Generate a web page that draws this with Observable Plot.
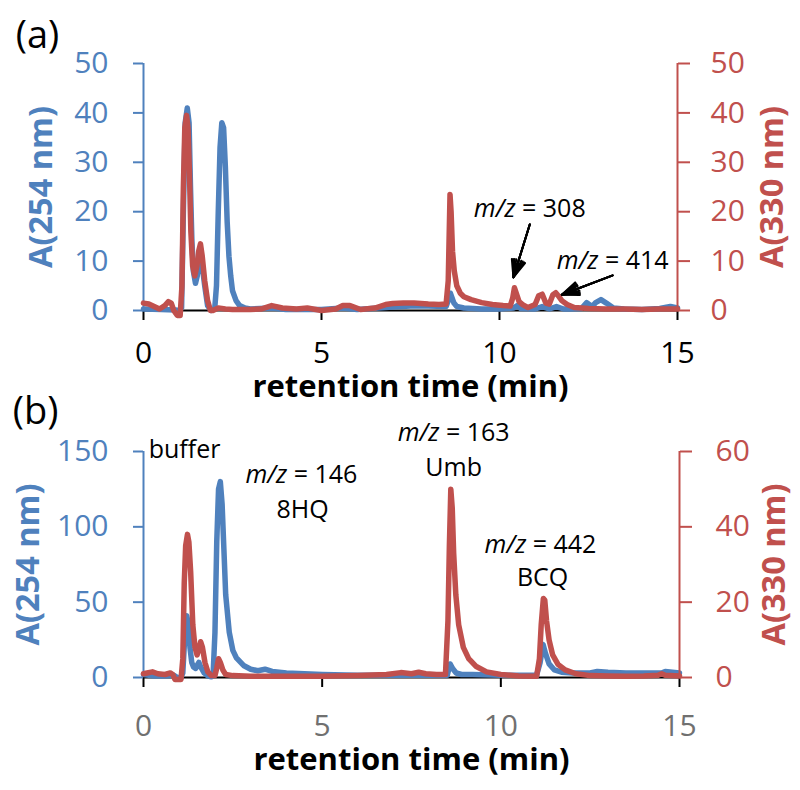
<!DOCTYPE html>
<html><head><meta charset="utf-8">
<script src="https://cdn.jsdelivr.net/npm/d3@7"></script>
<script src="https://cdn.jsdelivr.net/npm/@observablehq/plot@0.6"></script>
<style>
body{margin:0;background:#fff;}
#wrap{position:relative;width:800px;height:790px;overflow:hidden;}
.panel{position:absolute;left:0;width:800px;}
.panel svg{position:absolute;left:0;top:0;overflow:visible;}
</style></head><body>
<div id="wrap">
 <div class="panel" id="pa" style="top:0;height:390px"></div>
 <div class="panel" id="pb" style="top:390px;height:400px"></div>
</div>
<script>
// ---------- Panel (a) ----------
const aT254 = [0,0.5,0.9,1.0,1.07,1.12,1.17,1.23,1.28,1.32,1.36,1.4,1.46,1.51,1.56,1.6,1.65,1.72,1.8,1.9,2.0,2.05,2.1,2.15,2.2,2.25,2.3,2.35,2.4,2.45,2.5,2.6,2.7,2.85,3.0,3.6,4,5,5.6,6,7,7.5,8,8.5,8.56,8.62,8.67,8.72,8.8,9.0,9.5,10,10.4,10.5,10.6,11,11.2,11.4,11.6,11.8,12,12.3,12.45,12.6,12.7,12.85,13.0,13.2,13.5,14,14.5,14.8,15];
const aA254 = [0.3,0.2,0.1,0,0.5,20,38,41,38,25,14,8,5.5,7,10,12,9,5,1,0,0.3,5,20,33,38,37,29,18,11,7,4,2,1,0.5,0.3,0.5,0.2,0.2,0.5,0.2,0.7,0.9,0.9,0.8,2,3.5,2.5,1.5,0.8,0.5,0.3,0.3,0.5,1,0.4,0.3,0.8,0.3,0.8,0.3,0.3,0.4,1.6,0.8,1.6,2.2,1.5,0.5,0.3,0.2,0.4,0.8,0.5];
const aT330 = [0,0.15,0.3,0.45,0.6,0.7,0.78,0.85,0.95,1.03,1.08,1.12,1.16,1.21,1.25,1.29,1.33,1.38,1.44,1.5,1.55,1.6,1.65,1.72,1.8,1.88,1.95,2.1,2.3,2.5,3.0,3.3,3.6,3.9,4.3,4.6,5.0,5.4,5.6,5.8,6.1,6.5,6.8,7.0,7.3,7.6,8.0,8.3,8.5,8.56,8.61,8.64,8.68,8.73,8.8,8.9,9.0,9.2,9.5,9.8,10.1,10.3,10.37,10.42,10.47,10.55,10.65,10.8,11.0,11.1,11.2,11.3,11.4,11.5,11.58,11.65,11.75,11.9,12.1,12.5,13,13.5,14,14.5,15];
const aA330 = [1.5,1.3,0.8,0.3,1.0,1.8,1.5,0,-1,-1,5,25,37,39.5,37,28,16,9,7,9,12,13.5,11,6,2,0,0,0.5,0.3,0.2,0.2,0.3,1,0.5,0.3,0.5,0,0.3,1.0,1.0,0.2,0.5,1.2,1.4,1.5,1.5,1.3,1.2,1.3,6,23.5,20,12,8,5,3.5,2.8,2.2,1.6,1.2,1.0,0.9,2.5,4.6,3.5,1.8,1.2,0.6,1.2,3,3.3,1.5,1.3,3.2,3.6,3.0,2,1.2,0.6,0.4,0.3,0.3,0.2,0.3,0.3];
const aLeftTicks = [0,10,20,30,40,50];
const aRightTicks = [0,10,20,30,40,50];
const aNoteText = ["m/z = 308","m/z = 414"];
const aNoteX = [10.85,13.18];
const aNoteY = [20.5,10.1];
const aArrowX1 = [10.85,13.18], aArrowY1 = [17.4,7.1];
const aArrowX2 = [10.39,11.75], aArrowY2 = [6.7,3.2];

// ---------- Panel (b) ----------
const bT254 = [0,0.3,0.6,0.85,0.95,1.05,1.1,1.15,1.21,1.26,1.3,1.35,1.4,1.46,1.5,1.55,1.6,1.7,1.8,1.9,1.95,2.0,2.05,2.1,2.15,2.2,2.25,2.3,2.4,2.5,2.6,2.8,3.0,3.2,3.4,3.6,4.0,5.0,6.0,7.0,8.0,8.5,8.58,8.65,8.75,8.9,9.2,10,11,11.1,11.18,11.25,11.35,11.5,11.7,12,12.5,12.7,13,13.5,14,14.5,14.6,15];
const bA254 = [2,1,1,1.5,0,0,3,25,41,35,20,10,7,6,8,10,7,3,1,0.5,3,30,90,125,130,115,85,55,30,18,13,8,5.5,4.5,5.5,4,3,2,1.5,1.5,1.5,1.5,9,6,3,2,2,1.5,1.5,10,22,16,9,5,3.5,3,3,4,3.5,3,3,3,4,3];
const bT330 = [0,0.1,0.25,0.4,0.6,0.75,0.82,0.88,0.95,1.05,1.1,1.14,1.18,1.23,1.27,1.32,1.38,1.44,1.5,1.55,1.6,1.65,1.72,1.8,1.9,2.0,2.05,2.1,2.15,2.22,2.3,2.5,3,4,5,6,6.8,7.2,7.5,7.7,7.9,8.2,8.45,8.52,8.56,8.6,8.64,8.68,8.74,8.82,8.95,9.1,9.3,9.6,10,10.5,11.0,11.08,11.13,11.19,11.23,11.28,11.35,11.45,11.6,11.8,12.1,12.5,13,13.5,14,14.4,14.5,14.6,15];
const bA330 = [1,1.2,1.5,1,0.8,1.2,0.8,-0.5,-0.5,-0.5,5,25,35,38,36,28,14,8,6,7.5,9.5,8,4,1.5,0.5,0.5,2.5,5,4,2,0.8,0.5,0.3,0.3,0.3,0.5,0.8,1.3,1.0,1.4,1.0,0.8,0.8,15,35,50,45,33,22,14,8,5,3,1.5,0.8,0.4,0.3,5,14,21,20.5,15,10,6,3.5,2,1,0.5,0.4,0.3,0.4,0.6,1.0,0.6,0.4];
const bLeftTicks = [0,50,100,150];
const bRightTicks = [0,20,40,60];
const bNoteText = ["buffer","m/z = 146","8HQ","m/z = 163","Umb","m/z = 442","BCQ"];
const bNoteX = [1.15,4.42,4.45,8.68,8.68,11.11,11.17];
const bNoteY = [151,134.7,111,162,139,88,66];

const xTicks = [0,5,10,15];
const BLUE = "#4F81BD", RED = "#C0504D";
const FONT = "'Open Sans', Lato, sans-serif";

const series = (t, v) => t.map((d, i) => ({t: d, v: v[i]}));
const notes = (tx, x, y) => tx.map((d, i) => ({text: d, x: x[i], y: y[i]}));
const arrows = (x1, y1, x2, y2) => x1.map((d, i) => ({x1: d, y1: y1[i], x2: x2[i], y2: y2[i]}));

function italicize(svg) {
  svg.querySelectorAll("text").forEach(el => {
    const s = el.textContent;
    if (s.startsWith("m/z")) {
      el.textContent = "";
      const ns = "http://www.w3.org/2000/svg";
      const a = document.createElementNS(ns, "tspan");
      a.setAttribute("font-style", "italic");
      a.textContent = "m/z";
      el.appendChild(a);
      el.appendChild(document.createTextNode(s.slice(3)));
    }
  });
  return svg;
}

function arrowMarks(data) {
  return [16, 26, 36, 44].map(a => Plot.arrow(data, {x1: "x1", y1: "y1", x2: "x2", y2: "y2", stroke: "#000", strokeWidth: 2, headLength: 15, headAngle: a}));
}

const centered = {textAnchor: "middle", lineAnchor: "middle"};
const LW = 5.5, TICKFS = 30, TITLEFS = 31, YTITLEFS = 32.5, NOTEFS = 25;

function panel(el, cfg) {
  const common = {
    width: 800, height: cfg.height,
    marginLeft: 143, marginRight: cfg.mr, marginTop: cfg.mt, marginBottom: cfg.mb,
    style: {fontFamily: FONT, background: "transparent", overflow: "visible"}
  };
  const bottom = Plot.plot({
    ...common,
    x: {domain: [0, 15]},
    y: {domain: cfg.leftDomain},
    marks: [
      Plot.ruleY([0], {stroke: "#000", strokeWidth: 2}),
      Plot.axisX({ticks: xTicks, tickSize: 10, tickPadding: cfg.xPad, fontSize: TICKFS, stroke: "#000", fill: cfg.xColor, strokeWidth: 2, label: null}),
      Plot.ruleX([0], {stroke: BLUE, strokeWidth: 2}),
      Plot.axisY({ticks: cfg.leftTicks, tickSize: 10, tickPadding: 25, fontSize: TICKFS, color: BLUE, strokeWidth: 2, label: null}),
      Plot.text(["A(254 nm)"], {...centered, text: d => d, frameAnchor: "left", rotate: -90, dx: cfg.ltDx, fontSize: YTITLEFS, fontWeight: "bold", fill: BLUE}),
      Plot.text(["retention time (min)"], {...centered, text: d => d, frameAnchor: "bottom", dy: cfg.xtDy, fontSize: TITLEFS, fontWeight: "bold", fill: "#000"}),
      Plot.text([cfg.tag], {...centered, text: d => d, frameAnchor: "top-left", dx: cfg.tagDx, dy: cfg.tagDy, fontSize: 38, fill: "#000"}),
      Plot.line(cfg.blue, {x: "t", y: "v", stroke: BLUE, strokeWidth: LW, strokeLinejoin: "round", strokeLinecap: "round"}),
      ...(cfg.bNotes ? [Plot.text(cfg.bNotes, {x: "x", y: "y", text: "text", fontSize: NOTEFS, fill: "#000"})] : [])
    ]
  });
  const top = Plot.plot({
    ...common,
    x: {domain: [0, 15], axis: null},
    y: {domain: cfg.rightDomain},
    marks: [
      Plot.ruleX([15], {stroke: RED, strokeWidth: 2}),
      Plot.axisY({anchor: "right", ticks: cfg.rightTicks, tickSize: 12, tickPadding: cfg.rPad, fontSize: TICKFS, color: RED, strokeWidth: 2, label: null}),
      Plot.text(["A(330 nm)"], {...centered, text: d => d, frameAnchor: "right", rotate: -90, dx: 95, fontSize: YTITLEFS, fontWeight: "bold", fill: RED}),
      Plot.line(cfg.red, {x: "t", y: "v", stroke: RED, strokeWidth: LW, strokeLinejoin: "round", strokeLinecap: "round"}),
      ...(cfg.tNotes ? [Plot.text(cfg.tNotes, {x: "x", y: "y", text: "text", fontSize: NOTEFS, fill: "#000"})] : []),
      ...(cfg.arrows ? arrowMarks(cfg.arrows) : [])
    ]
  });
  el.appendChild(italicize(bottom));
  el.appendChild(italicize(top));
}

panel(document.getElementById("pa"), {
  height: 390, mt: 63, mb: 80, mr: 123,
  leftDomain: [0, 50], rightDomain: [0, 50],
  leftTicks: aLeftTicks, rightTicks: aRightTicks,
  xPad: 21, xColor: "#000", rPad: 21, ltDx: -102, xtDy: 77,
  tag: "(a)", tagDx: -106, tagDy: -28,
  blue: series(aT254, aA254), red: series(aT330, aA330),
  tNotes: notes(aNoteText, aNoteX, aNoteY),
  arrows: arrows(aArrowX1, aArrowY1, aArrowX2, aArrowY2)
});
panel(document.getElementById("pb"), {
  height: 400, mt: 61, mb: 113, mr: 121,
  leftDomain: [0, 150], rightDomain: [0, 60],
  leftTicks: bLeftTicks, rightTicks: bRightTicks,
  xPad: 27, xColor: "#707070", rPad: 24, ltDx: -115, xtDy: 83,
  tag: "(b)", tagDx: -108, tagDy: -40,
  blue: series(bT254, bA254), red: series(bT330, bA330),
  bNotes: notes(bNoteText, bNoteX, bNoteY)
});
</script>
</body></html>
